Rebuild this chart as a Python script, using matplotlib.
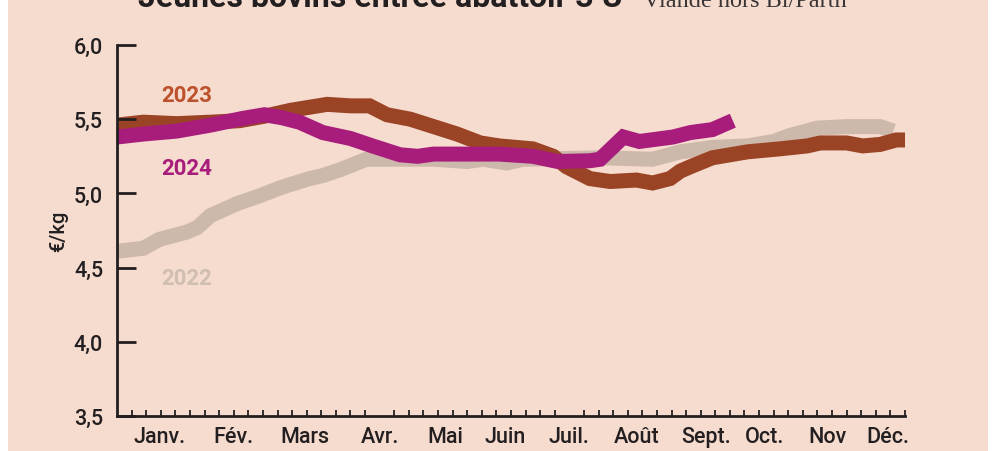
import matplotlib
matplotlib.use("Agg")
import matplotlib.pyplot as plt
from matplotlib.patches import Rectangle

# ── Data (x = week of year, y = €/kg) ─────────────────────────────────────────
weeks_2023 = [0, 1.8, 4.1, 6.4, 8.4, 10.1, 11.9, 14.4, 16.0, 17.3, 18.5, 20.1, 21.7,
              23.3, 24.9, 26.2, 28.5, 29.9, 30.8, 32.4, 33.8, 35.6, 36.7, 37.9,
              38.6, 39.3, 40.8, 43.2, 45.4, 47.3, 48.2, 50.0, 51.1, 52.3, 53.4, 54.0]
price_2023 = [5.46, 5.48, 5.47, 5.48, 5.49, 5.52, 5.56, 5.60, 5.59, 5.59, 5.53, 5.50, 5.45,
              5.40, 5.34, 5.32, 5.30, 5.25, 5.18, 5.10, 5.08, 5.09, 5.07, 5.10,
              5.15, 5.18, 5.24, 5.28, 5.30, 5.32, 5.34, 5.34, 5.32, 5.33, 5.36, 5.36]

weeks_2024 = [0, 1.8, 4.1, 6.4, 8.6, 10.1, 11.3, 12.5, 14.1, 16.0, 17.5, 19.4, 20.6,
              21.7, 24.0, 26.2, 28.5, 30.2, 32.4, 33.1, 34.7, 35.8, 38.1, 39.3, 40.8, 42.2]
price_2024 = [5.38, 5.40, 5.42, 5.46, 5.505, 5.53, 5.51, 5.48, 5.41, 5.37, 5.32, 5.26, 5.25,
              5.265, 5.265, 5.265, 5.25, 5.215, 5.22, 5.23, 5.38, 5.35, 5.38, 5.41, 5.43, 5.49]

weeks_2022 = [0, 1.8, 2.9, 4.8, 5.5, 6.4, 8.2, 9.8, 11.4, 13.2, 14.1, 15.3, 17.1, 21.7,
              24.0, 25.1, 26.7, 27.8, 33.1, 36.7, 38.6, 40.8, 43.2, 45.0, 46.1, 48.0,
              50.0, 52.3, 53.2]
price_2022 = [4.61, 4.63, 4.69, 4.74, 4.77, 4.85, 4.93, 4.985, 5.045, 5.10, 5.12, 5.16, 5.23, 5.23,
              5.215, 5.23, 5.205, 5.23, 5.24, 5.23, 5.28, 5.31, 5.32, 5.35, 5.39, 5.44,
              5.45, 5.45, 5.42]

months = ["Janv.", "Fév.", "Mars", "Avr.", "Mai", "Juin", "Juil.", "Août",
          "Sept.", "Oct.", "Nov", "Déc."]
month_pos = [2.95, 7.95, 12.9, 18.0, 22.5, 26.6, 31.0, 35.6, 40.4, 44.4, 48.7, 52.8]

y_ticks = [3.5, 4.0, 4.5, 5.0, 5.5, 6.0]
y_labels = ["3,5", "4,0", "4,5", "5,0", "5,5", "6,0"]

# ── Colours ───────────────────────────────────────────────────────────────────
BG      = "#f6dccf"
INK     = "#231f20"
BROWN   = "#9b4425"
BROWN_T = "#bd512b"
MAGENTA = "#a81d7b"
GREY    = "#cdb9ab"
GREY_T  = "#d0beb2"

plt.rcParams["font.family"] = ["Roboto", "DejaVu Sans"]

W, H = 1008, 452
fig = plt.figure(figsize=(W / 100, H / 100), dpi=100, facecolor="white")
fig.patches.append(Rectangle((8 / W, 0), (988 - 8) / W, 1, transform=fig.transFigure,
                             facecolor=BG, edgecolor="none", zorder=-1))

ax = fig.add_axes([117 / W, 1 - 417 / H, (905 - 117) / W, (417 - 46) / H])
ax.set_facecolor("none")
ax.set_zorder(1)

lw = 10.8
kw = dict(solid_joinstyle="miter", solid_capstyle="butt")
ax.plot(weeks_2022, price_2022, color=GREY, lw=lw, zorder=1, **kw)
ax.plot(weeks_2023, price_2023, color=BROWN, lw=lw, zorder=1.5, **kw)
ax.plot(weeks_2024, price_2024, color=MAGENTA, lw=lw, zorder=2, **kw)

ax.set_xlim(0, 54)
ax.set_ylim(3.5, 6.0)

for s in ("top", "right"):
    ax.spines[s].set_visible(False)
for s in ("left", "bottom"):
    ax.spines[s].set_color(INK)
    ax.spines[s].set_linewidth(2)
    ax.spines[s].set_zorder(3)

ax.set_yticks(y_ticks, y_labels)
ax.tick_params(axis="y", direction="in", length=14, width=2, color=INK,
               labelsize=15.5, labelcolor=INK, pad=10)

ax.set_xticks(month_pos, months)
ax.set_xticks(range(1, 55), minor=True)
ax.tick_params(axis="x", which="major", length=0, labelsize=15.5, labelcolor=INK, pad=7)
ax.tick_params(axis="x", which="minor", direction="in", length=4.5, width=1.3, color=INK)
for lab in ax.get_xticklabels() + ax.get_yticklabels():
    lab.set_fontweight("medium")

ax.set_ylabel("€/kg", fontsize=14.5, color=INK, labelpad=4, fontweight="medium")

# year labels
ax.text(4.8, 5.62, "2023", color=BROWN_T, fontsize=16, fontweight="bold",
        ha="center", va="baseline")
ax.text(4.8, 5.13, "2024", color=MAGENTA, fontsize=16, fontweight="bold",
        ha="center", va="baseline")
ax.text(4.8, 4.39, "2022", color=GREY_T, fontsize=16, fontweight="bold",
        ha="center", va="baseline")

# title, cut off at the top edge as in the source
fig.text(138 / W, 1 - 7 / H, "Jeunes bovins entrée abattoir 3 U –", fontsize=23,
         fontweight="bold", color=INK, ha="left", va="baseline")
fig.text(643 / W, 1 - 7 / H, "Viande hors Bl/Parth", fontsize=17.5,
         family="Liberation Serif", color="#3a3536", ha="left", va="baseline")

fig.savefig("out.png", dpi=100, facecolor="white")
